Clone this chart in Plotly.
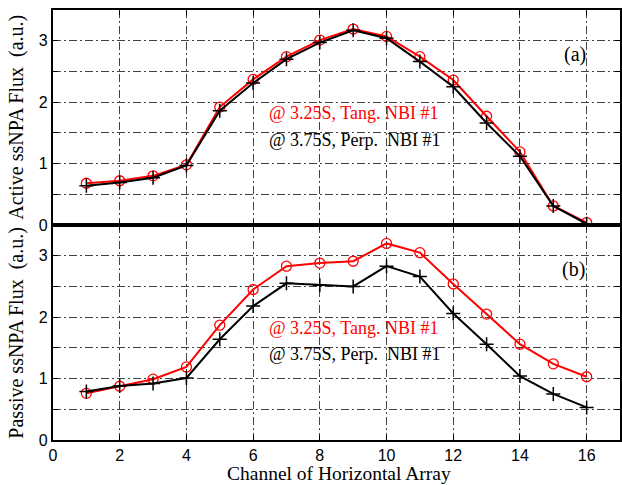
import plotly.graph_objects as go
from plotly.subplots import make_subplots

channels = list(range(1, 17))

active_tang = [0.68, 0.72, 0.80, 0.98, 1.92, 2.37, 2.74, 3.01, 3.19, 3.07, 2.74, 2.36, 1.77, 1.19, 0.31, 0.04]
active_perp = [0.64, 0.69, 0.77, 0.97, 1.86, 2.31, 2.70, 2.97, 3.17, 3.04, 2.66, 2.25, 1.66, 1.12, 0.31, 0.02]

passive_tang = [0.76, 0.875, 0.99, 1.19, 1.87, 2.45, 2.83, 2.88, 2.91, 3.20, 3.05, 2.54, 2.05, 1.56, 1.24, 1.03]
passive_perp = [0.79, 0.88, 0.92, 1.01, 1.64, 2.18, 2.55, 2.52, 2.50, 2.83, 2.66, 2.06, 1.56, 1.04, 0.75, 0.53]

label_tang = "@ 3.25S, Tang. NBI #1"
label_perp = "@ 3.75S, Perp.\u00a0 NBI #1"

x_ticks = [0, 2, 4, 6, 8, 10, 12, 14, 16]
y_ticks = [0, 0.5, 1, 1.5, 2, 2.5, 3, 3.5]
y_ticktext = ["0", "", "1", "", "2", "", "3", ""]

RED = "#ff0000"
BLACK = "#000000"
SERIF = "Liberation Serif, Times New Roman, serif"
SANS = "Liberation Sans, Arial, sans-serif"

fig = make_subplots(rows=2, cols=1, shared_xaxes=True, vertical_spacing=0)

for row, (tang, perp) in enumerate([(active_tang, active_perp), (passive_tang, passive_perp)], start=1):
    fig.add_trace(go.Scatter(
        x=channels, y=tang, mode="lines+markers",
        line=dict(color=RED, width=2),
        marker=dict(symbol="circle-open", size=10, color=RED, line=dict(width=1.3, color=RED)),
        showlegend=False), row=row, col=1)
    fig.add_trace(go.Scatter(
        x=channels, y=perp, mode="lines+markers",
        line=dict(color=BLACK, width=2),
        marker=dict(symbol="cross-thin-open", size=10, color=BLACK, line=dict(width=1.5, color=BLACK)),
        showlegend=False), row=row, col=1)

axis_common = dict(
    showline=True, linecolor="black", linewidth=2.2, mirror="ticks",
    ticks="inside", ticklen=5, tickwidth=1.2, tickcolor="black",
    showgrid=True, gridcolor="#444444", gridwidth=1, griddash="8px,3px,2px,3px",
    zeroline=False,
)

for r in (1, 2):
    fig.update_xaxes(range=[0, 17], tickvals=x_ticks, row=r, col=1, **axis_common)
    fig.update_yaxes(range=[0, 3.5], tickvals=y_ticks, ticktext=y_ticktext, row=r, col=1,
                     tickfont=dict(family=SANS, size=16, color="black"), **axis_common)

fig.update_xaxes(showticklabels=False, row=1, col=1)
fig.update_xaxes(tickfont=dict(family=SANS, size=16, color="black"), row=2, col=1)

annotations = [
    dict(text=label_tang, x=6.42, y=1.83, xref="x", yref="y", xanchor="left", yanchor="middle",
         showarrow=False, font=dict(family=SERIF, size=18, color=RED)),
    dict(text=label_perp, x=6.42, y=1.39, xref="x", yref="y", xanchor="left", yanchor="middle",
         showarrow=False, font=dict(family=SERIF, size=18, color=BLACK)),
    dict(text=label_tang, x=6.42, y=1.83, xref="x2", yref="y2", xanchor="left", yanchor="middle",
         showarrow=False, font=dict(family=SERIF, size=18, color=RED)),
    dict(text=label_perp, x=6.42, y=1.40, xref="x2", yref="y2", xanchor="left", yanchor="middle",
         showarrow=False, font=dict(family=SERIF, size=18, color=BLACK)),
    dict(text="(a)", x=15.65, y=2.77, xref="x", yref="y", xanchor="center", yanchor="middle",
         showarrow=False, font=dict(family=SERIF, size=20, color=BLACK)),
    dict(text="(b)", x=15.6, y=2.77, xref="x2", yref="y2", xanchor="center", yanchor="middle",
         showarrow=False, font=dict(family=SERIF, size=20, color=BLACK)),
    dict(text="Channel of Horizontal Array", x=0.505, y=-0.079, xref="paper", yref="paper",
         xanchor="center", yanchor="middle", showarrow=False, borderpad=0,
         font=dict(family=SERIF, size=19.5, color=BLACK)),
    dict(text="Active ssNPA Flux\u00a0 (a.u.)", x=-0.065, y=0.75, xref="paper", yref="paper",
         xanchor="center", yanchor="middle", textangle=-90, showarrow=False,
         font=dict(family=SERIF, size=20, color=BLACK)),
    dict(text="Passive ssNPA Flux\u00a0 (a.u.)", x=-0.065, y=0.25, xref="paper", yref="paper",
         xanchor="center", yanchor="middle", textangle=-90, showarrow=False,
         font=dict(family=SERIF, size=20, color=BLACK)),
]

fig.update_layout(
    width=622, height=485,
    margin=dict(l=53, r=0, t=10, b=45),
    paper_bgcolor="white", plot_bgcolor="white",
    annotations=annotations,
    showlegend=False,
)

fig.write_html("out.html")
